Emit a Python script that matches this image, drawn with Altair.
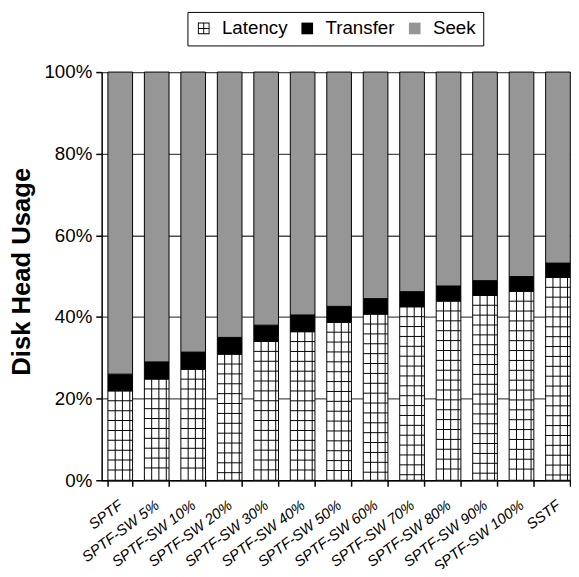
import altair as alt
import pandas as pd

categories = ["SPTF", "SPTF-SW 5%", "SPTF-SW 10%", "SPTF-SW 20%", "SPTF-SW 30%",
              "SPTF-SW 40%", "SPTF-SW 50%", "SPTF-SW 60%", "SPTF-SW 70%",
              "SPTF-SW 80%", "SPTF-SW 90%", "SPTF-SW 100%", "SSTF"]
latency = [21.9, 24.8, 27.2, 30.9, 34.0, 36.4, 38.7, 40.7, 42.5, 43.9, 45.3, 46.3, 49.7]
transfer = [4.1, 4.2, 4.2, 4.1, 4.0, 4.1, 3.9, 3.8, 3.7, 3.7, 3.6, 3.6, 3.5]
seek = [74.0, 71.0, 68.6, 65.0, 62.0, 59.5, 57.4, 55.5, 53.8, 52.4, 51.1, 50.1, 46.8]
series = ["Latency", "Transfer", "Seek"]
colors = ["#ffffff", "#000000", "#969696"]

# legend symbols: grid square (frame + cross drawn as filled geometry), plain squares
GRID_SYMBOL = ("M-1,-1H1V1H-1Z"
               "M-0.84,-0.84V-0.08H-0.08V-0.84Z"
               "M0.08,-0.84V-0.08H0.84V-0.84Z"
               "M-0.84,0.08V0.84H-0.08V0.08Z"
               "M0.08,0.08V0.84H0.84V0.08Z")
legend_shapes = [GRID_SYMBOL, "square", "square"]
legend_colors = ["#000000", "#000000", "#969696"]

# stacked segments
rows = []
for c, l, t, s in zip(categories, latency, transfer, seek):
    rows.append({"cat": c, "series": "Latency", "lo": 0.0, "hi": l})
    rows.append({"cat": c, "series": "Transfer", "lo": l, "hi": l + t})
    rows.append({"cat": c, "series": "Seek", "lo": l + t, "hi": l + t + s})
bars_df = pd.DataFrame(rows)

# grid-pattern helper rows for the latency fill
HATCH = 2.42
hrows = []
for c, l in zip(categories, latency):
    v = l - HATCH
    while v > 1.0:
        hrows.append({"cat": c, "v": v})
        v -= HATCH
hatch_df = pd.DataFrame(hrows)
vert_df = pd.DataFrame({"cat": categories, "lo": [0.0] * len(categories), "hi": latency})

FONT = "Liberation Sans"

xscale = alt.Scale(domain=categories, paddingInner=0.324, paddingOuter=0.095, align=0.9)
yscale = alt.Scale(domain=[0, 100], nice=False)

leg = alt.Legend(orient="none", legendX=87, legendY=-61,
                 direction="horizontal", title=None,
                 symbolSize=140, symbolStrokeColor="#333333", symbolStrokeWidth=1,
                 symbolOpacity=1,
                 labelFont=FONT, labelFontSize=19,
                 labelColor="black", labelOffset=9,
                 columnPadding=10, padding=7,
                 strokeColor="black", fillColor="white")

bars = alt.Chart(bars_df).mark_bar(stroke="black", strokeWidth=1).encode(
    x=alt.X("cat:N", scale=xscale, sort=categories, title=None,
            axis=alt.Axis(labelAngle=-37, labelAlign="right", labelBaseline="middle",
                          labelFont=FONT, labelFontStyle="italic", labelFontSize=15,
                          labelColor="black", labelPadding=17, tickBand="extent",
                          tickSize=6, tickColor="black", domainColor="black",
                          domainWidth=1.5, tickWidth=1.5, grid=False,
                          labelOverlap=False)),
    y=alt.Y("lo:Q", scale=yscale, title="Disk Head Usage",
            axis=alt.Axis(values=[0, 20, 40, 60, 80, 100], labelExpr="datum.value + '%'",
                          labelFont=FONT, labelFontSize=19, labelColor="black",
                          labelPadding=4, tickSize=6, tickColor="black", tickWidth=1.5,
                          domainColor="black", domainWidth=1.5, grid=True,
                          gridColor="#4d4d4d", gridWidth=1.3,
                          titleFont=FONT, titleFontWeight="bold",
                          titleFontSize=26, titleColor="black",
                          titleX=-68, titleY=202, titleAngle=270,
                          titleAlign="center", titleBaseline="bottom")),
    y2="hi:Q",
    color=alt.Color("series:N", scale=alt.Scale(domain=series, range=colors), legend=None),
)

# invisible layer that only provides the legend (shape + fill)
legend_layer = alt.Chart(bars_df).mark_point(filled=True, opacity=0).encode(
    x=alt.X("cat:N", scale=xscale, sort=categories),
    y=alt.Y("lo:Q", scale=yscale),
    color=alt.Color("series:N", scale=alt.Scale(domain=series, range=legend_colors),
                    legend=leg),
    shape=alt.Shape("series:N", scale=alt.Scale(domain=series, range=legend_shapes),
                    legend=leg),
)

hlines = alt.Chart(hatch_df).mark_tick(orient="horizontal", size=25, thickness=1,
                                       color="black", opacity=1).encode(
    x=alt.X("cat:N", scale=xscale, sort=categories),
    y=alt.Y("v:Q", scale=yscale),
)

vlayers = []
for off in [-5.1, 2.2, 9.7]:
    vlayers.append(
        alt.Chart(vert_df).mark_rule(color="black", strokeWidth=1, xOffset=off).encode(
            x=alt.X("cat:N", scale=xscale, sort=categories),
            y=alt.Y("lo:Q", scale=yscale),
            y2="hi:Q",
        )
    )

chart = alt.layer(bars, hlines, *vlayers, legend_layer).resolve_scale(
    color="independent", shape="independent"
).properties(
    width=476, height=414,
    autosize=alt.AutoSizeParams(type="none"),
    padding={"left": 95, "top": 61, "right": 0, "bottom": 86},
).configure_view(stroke=None).configure(background="white")

chart.save("out.html", embed_options={"renderer": "svg", "actions": False})
